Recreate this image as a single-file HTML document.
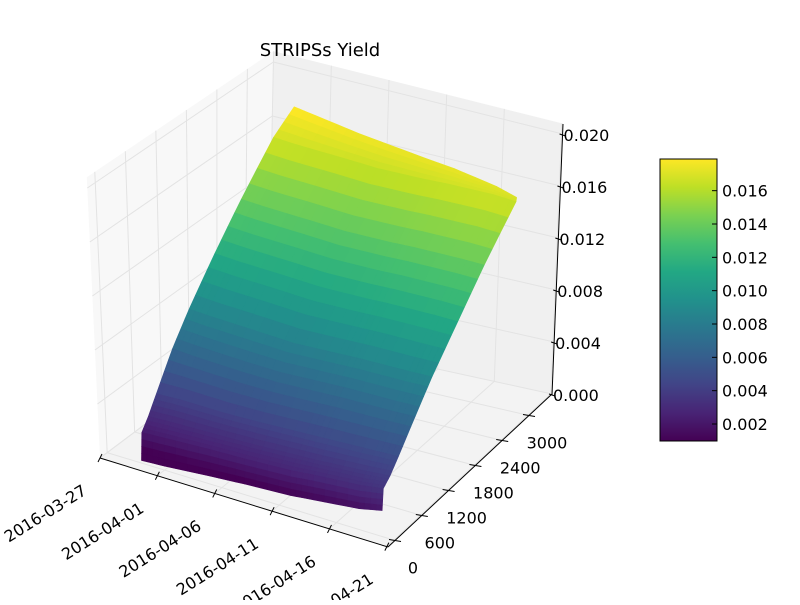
<!DOCTYPE html>
<html><head><meta charset="utf-8"><style>
html,body{margin:0;padding:0;background:#fff;}
svg text{font-family:"DejaVu Sans","Liberation Sans",sans-serif;fill:#000;}
</style></head><body>
<svg id="chart" width="800" height="600" viewBox="0 0 800 600" xmlns="http://www.w3.org/2000/svg">
<rect width="800" height="600" fill="#fff"/>
<g id="panes"></g>
<g id="grid"></g>
<g id="surface"></g>
<g id="axes"></g>
<g id="cbar"></g>
<text x="320" y="56" font-size="18" text-anchor="middle">STRIPSs Yield</text>
</svg>
<script>
// ---- data ----
const dates = ["2016-03-30","2016-04-01","2016-04-05","2016-04-08","2016-04-12","2016-04-14","2016-04-18","2016-04-20"];
const maturities = [0, 30, 180, 365, 730, 1095, 1640, 2190, 2840];
const maxMaturity = [3250, 3210, 3150, 3100, 3030, 2990, 2910, 2850];
const yieldRow0 = [0.0002,0.0022,0.0030,0.0042,0.0066,0.0086,0.0113,0.0139,0.0168,0.0180];
const yieldRow1 = [0.0003,0.0023,0.0031,0.0043,0.0065,0.0085,0.0112,0.0138,0.0167,0.0179];
const yieldRow2 = [0.0006,0.0025,0.0032,0.0043,0.0064,0.0084,0.0111,0.0137,0.0166,0.0176];
const yieldRow3 = [0.0008,0.0026,0.0033,0.0044,0.0064,0.0083,0.0110,0.0136,0.0165,0.0175];
const yieldRow4 = [0.0010,0.0028,0.0035,0.0046,0.0066,0.0085,0.0111,0.0137,0.0166,0.0174];
const yieldRow5 = [0.0012,0.0030,0.0036,0.0047,0.0067,0.0086,0.0112,0.0138,0.0167,0.0174];
const yieldRow6 = [0.0016,0.0033,0.0039,0.0049,0.0068,0.0087,0.0113,0.0139,0.0168,0.0172];
const yieldRow7 = [0.0020,0.0036,0.0041,0.0050,0.0069,0.0088,0.0113,0.0139,0.0167,0.0170];
const yields = [yieldRow0,yieldRow1,yieldRow2,yieldRow3,yieldRow4,yieldRow5,yieldRow6,yieldRow7];
const dateTicks = ["2016-03-27","2016-04-01","2016-04-06","2016-04-11","2016-04-16","2016-04-21"];
const matTicks = [0,600,1200,1800,2400,3000];
const zTicks = [0.000,0.004,0.008,0.012,0.016,0.020];
const cbarTicks = [0.002,0.004,0.006,0.008,0.010,0.012,0.014,0.016];
const dateMin = "2016-03-27", dateSpanDays = 25.1;
const matMin = -157, matMax = 3515;
const zMax = 0.0208;
const cMin = 0.00098, cMax = 0.0179;

const NS = "http://www.w3.org/2000/svg";
function mk(tag, attrs, parent){const e=document.createElementNS(NS,tag);for(const k in attrs)e.setAttribute(k,attrs[k]);parent.appendChild(e);return e;}
const FL=[100,458],FR=[388,547],BR=[552,394],BL=[268,332];
function dayNum(s){return (Date.parse(s)-Date.parse(dateMin))/86400000;}
function uOf(s){return dayNum(s)/dateSpanDays;}
function vOf(m){return (m-matMin)/(matMax-matMin);}
function P(u,v,z){
  const a=(1-u)*(1-v),b=u*(1-v),c=u*v,d=(1-u)*v;
  const x=a*FL[0]+b*FR[0]+c*BR[0]+d*BL[0];
  const y=a*FL[1]+b*FR[1]+c*BR[1]+d*BL[1];
  const zs=13500*(1-u)+13000*u;
  const tilt=-0.047*a+(-0.01)*b+0.041*c+0.02*d;
  const h=z*zs;
  return [x+tilt*h, y-h];
}
function pts(arr){return arr.map(p=>p[0].toFixed(2)+","+p[1].toFixed(2)).join(" ");}
const vir=[[0,68,1,84],[0.1,72,36,117],[0.2,65,68,135],[0.3,53,95,141],[0.4,42,120,142],[0.5,33,145,140],[0.6,34,168,132],[0.7,68,191,112],[0.8,122,209,81],[0.9,189,223,38],[1,253,231,37]];
function viridis(t){t=Math.max(0,Math.min(1,t));for(let i=1;i<vir.length;i++){if(t<=vir[i][0]){const a=vir[i-1],b=vir[i],f=(t-a[0])/(b[0]-a[0]);return "rgb("+[1,2,3].map(k=>Math.round(a[k]+(b[k]-a[k])*f)).join(",")+")";}}return "rgb(253,231,37)";}
function cz(z){return viridis((z-cMin)/(cMax-cMin));}
function matAt(i,j){return j<maturities.length?maturities[j]:maxMaturity[i];}

// panes
const panes=document.getElementById("panes");
let e;
e=mk("polygon",{points:pts([P(0,0,0),P(1,0,0),P(1,1,0),P(0,1,0)]),fill:"#f3f3f3"},panes);


e=mk("polygon",{points:pts([P(0,0,0),P(0,1,0),P(0,1,zMax),P(0,0,zMax)]),fill:"#f8f8f8"},panes);


e=mk("polygon",{points:pts([P(0,1,0),P(1,1,0),P(1,1,zMax),P(0,1,zMax)]),fill:"#f0f0f0"},panes);



// grid
const grid=document.getElementById("grid");
function gl(a,b,name){const l=mk("line",{x1:a[0],y1:a[1],x2:b[0],y2:b[1],stroke:"#e3e3e3","stroke-width":1},grid);}
dateTicks.forEach(s=>{const u=uOf(s);gl(P(u,0,0),P(u,1,0),"floor-date-grid");gl(P(u,1,0),P(u,1,zMax),"back-date-grid");});
matTicks.forEach(m=>{const v=vOf(m);gl(P(0,v,0),P(1,v,0),"floor-maturity-grid");gl(P(0,v,0),P(0,v,zMax),"left-maturity-grid");});
zTicks.forEach(z=>{gl(P(0,0,z),P(0,1,z),"left-z-grid");gl(P(0,1,z),P(1,1,z),"back-z-grid");});

// surface
const surf=document.getElementById("surface");
const quads=[];
const SUB=4;
const nCols=maturities.length+1;
for(let i=0;i<dates.length-1;i++){
  const u0=uOf(dates[i]),u1=uOf(dates[i+1]);
  for(let j=0;j<nCols-1;j++){
    const va0=vOf(matAt(i,j)),va1=vOf(matAt(i,j+1)),vb0=vOf(matAt(i+1,j)),vb1=vOf(matAt(i+1,j+1));
    const z00=yields[i][j],z10=yields[i+1][j],z01=yields[i][j+1],z11=yields[i+1][j+1];
    for(let a=0;a<SUB;a++)for(let b=0;b<SUB;b++){
      const s0=a/SUB,s1=(a+1)/SUB,t0=b/SUB,t1=(b+1)/SUB;
      const Z=(s,t)=>z00*(1-s)*(1-t)+z10*s*(1-t)+z01*(1-s)*t+z11*s*t;
      const U=s=>u0+(u1-u0)*s;
      const V=(s,t)=>(va0+(va1-va0)*t)*(1-s)+(vb0+(vb1-vb0)*t)*s;
      const c=[[s0,t0],[s1,t0],[s1,t1],[s0,t1]].map(q=>P(U(q[0]),V(q[0],q[1]),Z(q[0],q[1])));
      const sm=(s0+s1)/2,tm=(t0+t1)/2;
      quads.push({c,zm:Z(sm,tm),depth:U(sm)-V(sm,tm)});
    }
  }
}
quads.sort((a,b)=>a.depth-b.depth);
quads.forEach(q=>{const col=cz(q.zm);const p=mk("polygon",{points:pts(q.c),fill:col,stroke:col,"stroke-width":0.6,"stroke-linejoin":"round"},surf);

});

// axes
const ax=document.getElementById("axes");
function al(a,b,name){const l=mk("line",{x1:a[0],y1:a[1],x2:b[0],y2:b[1],stroke:"#000","stroke-width":1},ax);}
al(P(0,0,0),P(1,0,0),"date-axis-line");
al(P(1,0,0),P(1,1,0),"maturity-axis-line");
al([552,395],[563,124],"z-axis-line");
dateTicks.forEach(s=>{const u=uOf(s);const p=P(u,0,0);
  al([p[0]+2,p[1]-4],[p[0]-2,p[1]+4],"date-tick");
  const cx=p[0]-55, cy=p[1]+55;
  const t=mk("text",{x:cx,y:cy+6,"font-size":16,"text-anchor":"middle",transform:"rotate(-32 "+cx+" "+cy+")"},ax);
  t.textContent=s;
  
  });
matTicks.forEach(m=>{const p=P(1,vOf(m),0);
  al([p[0]-6,p[1]-1],[p[0]+6,p[1]+1],"maturity-tick");
  const t=mk("text",{x:p[0]+18,y:p[1]+33,"font-size":16,"text-anchor":"middle"},ax);
  t.textContent=String(m);
  
  });
zTicks.forEach(z=>{const y=395-z*13000;const x=552+(395-y)*(11/271);
  al([x-3,y-1],[x+3,y+1],"z-tick");
  const t=mk("text",{x:x+1,y:y+6,"font-size":16},ax);
  t.textContent=z.toFixed(3);
  
  });

// colorbar
const cb=document.getElementById("cbar");
const cbX=660,cbW=57,cbTop=159,cbBot=441;
const defs=mk("defs",{},cb);
const lg=mk("linearGradient",{id:"vg",x1:0,y1:1,x2:0,y2:0},defs);
vir.forEach(s=>mk("stop",{offset:s[0],"stop-color":"rgb("+s[1]+","+s[2]+","+s[3]+")"},lg));
e=mk("rect",{x:cbX,y:cbTop,width:cbW,height:cbBot-cbTop,fill:"url(#vg)",stroke:"#000","stroke-width":1},cb);


function cy(v){return cbBot-(v-cMin)/(cMax-cMin)*(cbBot-cbTop);}
cbarTicks.forEach(v=>{const y=cy(v);
  const l=mk("line",{x1:cbX+cbW-5,y1:y,x2:cbX+cbW,y2:y,stroke:"#000","stroke-width":1},cb);
  
  
  const t=mk("text",{x:cbX+cbW+5,y:y+6,"font-size":16},cb);
  t.textContent=v.toFixed(3);
  
  });
</script>
</body></html>
